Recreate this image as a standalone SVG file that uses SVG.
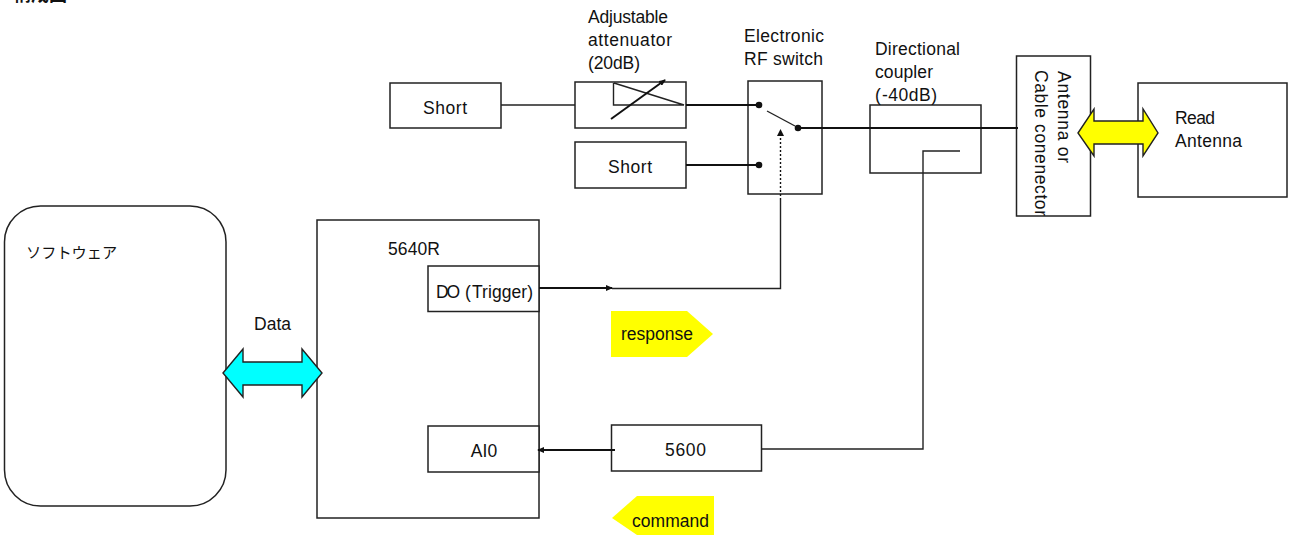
<svg xmlns="http://www.w3.org/2000/svg" width="1295" height="535" viewBox="0 0 1295 535">
<style>
text{font-family:"Liberation Sans",Arial,"Noto Sans CJK JP",sans-serif;font-size:17.5px;fill:#111}
.m{text-anchor:middle}
.b{fill:#fff;stroke:#222;stroke-width:1.5}
.n{fill:none;stroke:#222;stroke-width:1.4}
.t{fill:none;stroke:#111;stroke-width:2}
.d{fill:#111}
</style>
<defs>
<marker id="a" markerWidth="8" markerHeight="6" refX="6" refY="3" orient="auto" markerUnits="userSpaceOnUse"><path d="M0 0L7 3L0 6Z" fill="#111"/></marker>
</defs>
<g id="software"><rect class="b" x="4.500" y="206" width="221.500" height="300" rx="36" ry="36"/><text x="26" y="258" style="font-size:15.200px">ソフトウェア</text></g>
<g id="d5640r"><rect class="b" x="317" y="220" width="222" height="298"/><text x="388" y="255" textLength="52">5640R</text></g>
<g id="do"><rect class="b" x="428" y="266" width="111" height="45.500"/><text x="436" y="298" textLength="24">DO</text><text x="465" y="298">(</text><text x="472" y="298" textLength="61">Trigger)</text></g>
<g id="ai0"><rect class="b" x="428" y="426" width="111" height="46"/><text class="m" x="484" y="457">AI0</text></g>
<g id="d5600"><rect class="b" x="611.500" y="425" width="150" height="46"/><text x="665" y="456" textLength="41">5600</text></g>
<g id="short1"><rect class="b" x="390" y="83" width="111" height="45"/><text x="423" y="114" textLength="44">Short</text></g>
<g id="attenuator"><rect class="b" x="575" y="82" width="111" height="46"/><text x="588" y="23" textLength="80">Adjustable</text><text x="588" y="46" textLength="84">attenuator</text><text x="588" y="69" textLength="52">(20dB)</text></g>
<g id="short2"><rect class="b" x="575" y="142" width="111" height="46"/><text x="608" y="173" textLength="44">Short</text></g>
<g id="switch"><rect class="b" x="748" y="81" width="74" height="113"/><text x="744" y="42" textLength="80">Electronic</text><text x="744" y="65" textLength="79">RF switch</text></g>
<g id="coupler"><rect class="b" x="870" y="105" width="111" height="68"/><text x="875" y="55" textLength="85">Directional</text><text x="875" y="78" textLength="58">coupler</text><text x="875" y="101">(</text><text x="882" y="101" textLength="55">-40dB)</text></g>
<g id="connector"><rect class="b" x="1016.500" y="56" width="74" height="160"/><text transform="translate(1058,71) rotate(90)" textLength="92">Antenna or</text><text transform="translate(1035,70) rotate(90)" textLength="146">Cable conenector</text></g>
<g id="read-antenna"><rect class="b" x="1138" y="83" width="149" height="114"/><text x="1175" y="124" textLength="40">Read</text><text x="1175" y="147" textLength="67">Antenna</text></g>
<g id="connectors">
<path class="n" d="M501 105H575"/>
<path class="n" d="M614 83L684 105H613.500V83"/>
<path class="t" d="M686 105H759"/>
<path class="t" d="M611 119L665 80" marker-end="url(#a)"/>
<path class="t" d="M686 165H759"/>
<circle class="d" cx="759" cy="105" r="3.300"/><circle class="d" cx="759" cy="165" r="3.300"/><circle class="d" cx="798" cy="128" r="3.300"/>
<path class="n" d="M767 111L795 126"/>
<path class="t" d="M798 128H1018"/>
<path class="n" d="M960 151H923V449H761"/>
<path class="t" d="M539 288H612" marker-end="url(#a)"/>
<path class="n" d="M612 288.500H780.500V200"/>
<path stroke="#111" stroke-width="1.400" stroke-dasharray="2 2" fill="none" d="M780.500 200V134"/>
<path class="d" d="M780.500 129L784 136H777Z"/>
<path class="t" d="M615 450H538" marker-end="url(#a)"/>
</g>
<g id="arrows">
<path d="M223 373L243 349V362H302V349L322 373L302 397V385H243V397Z" fill="#00ffff" stroke="#222" stroke-width="1.400"/>
<text x="254" y="330" textLength="37">Data</text>
<path d="M1078 133L1094 109V121H1143V109L1158 133L1143 156V144H1094V156Z" fill="#ffff00" stroke="#222" stroke-width="1.400"/>
<path d="M611 311H687L713 334L687 357H611Z" fill="#ffff00"/><text x="621" y="340" textLength="72">response</text>
<path d="M612 518L637 496H714V535H637Z" fill="#ffff00"/><text x="632" y="527" textLength="77">command</text>
</g>
<text x="13" y="1" style="font-weight:bold;font-size:18px">構成図</text>
</svg>
